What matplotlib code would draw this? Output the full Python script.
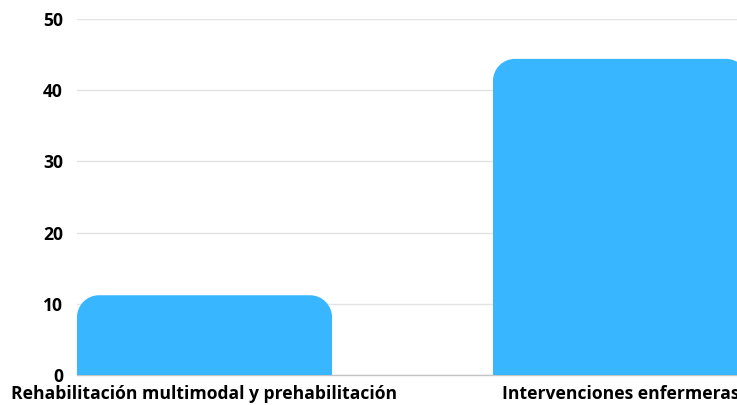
import os
import matplotlib
matplotlib.use("Agg")
from matplotlib import pyplot as plt
from matplotlib import font_manager as fm
from matplotlib.path import Path
from matplotlib.patches import PathPatch

categories = ["Rehabilitación multimodal y prehabilitación", "Intervenciones enfermeras"]
values = [11.2, 44.4]
yticks = [0, 10, 20, 30, 40, 50]

bar_color = "#38B6FF"
radius_px = 22

bold_file = '/usr/share/fonts/truetype/open-sans/OpenSans-Bold.ttf'
if os.path.exists(bold_file):
    font = fm.FontProperties(fname=bold_file, size=12.6)
else:
    font = fm.FontProperties(family='Open Sans', weight='bold', size=12.6)

W, H = 737, 405
fig = plt.figure(figsize=(W / 100, H / 100), dpi=100)
# axes runs past the right edge of the figure, like the reference crop
left, right, top, bottom = 77, 748, 19, 375
ax = fig.add_axes([left / W, 1 - bottom / H, (right - left) / W, (bottom - top) / H])

bar_width = 0.613
xs = list(range(len(categories)))
bars = ax.bar(xs, values, width=bar_width, alpha=0)
ax.set_xlim(-bar_width / 2, len(categories) - 1 + bar_width / 2)
ax.set_ylim(0, 50)

# rounded top corners, radius in pixels converted to data units
fig.canvas.draw()
inv = ax.transData.inverted()
x0, y0 = inv.transform((0, 0))
x1, y1 = inv.transform((radius_px, radius_px))
rx, ry = x1 - x0, y1 - y0

for b in bars:
    bx, by = b.get_x(), b.get_y()
    bw, bh = b.get_width(), b.get_height()
    k = 0.5523
    verts = [
        (bx, by),
        (bx, by + bh - ry),
        (bx, by + bh - ry + k * ry), (bx + rx - k * rx, by + bh), (bx + rx, by + bh),
        (bx + bw - rx, by + bh),
        (bx + bw - rx + k * rx, by + bh), (bx + bw, by + bh - ry + k * ry), (bx + bw, by + bh - ry),
        (bx + bw, by),
        (bx, by),
    ]
    codes = [Path.MOVETO, Path.LINETO,
             Path.CURVE4, Path.CURVE4, Path.CURVE4,
             Path.LINETO,
             Path.CURVE4, Path.CURVE4, Path.CURVE4,
             Path.LINETO, Path.CLOSEPOLY]
    ax.add_patch(PathPatch(Path(verts, codes), facecolor=bar_color, edgecolor='none', zorder=3))

ax.set_yticks(yticks)
ax.set_yticklabels([str(t) for t in yticks], fontproperties=font)
ax.set_xticks(xs)
ax.set_xticklabels(categories, fontproperties=font)
ax.tick_params(axis='y', length=0, pad=10)
ax.tick_params(axis='x', length=0, pad=7)

ax.grid(axis='y', color='#e3e3e3', linewidth=1, zorder=0)
ax.set_axisbelow(True)
for s in ['top', 'right', 'left']:
    ax.spines[s].set_visible(False)
ax.spines['bottom'].set_color('#c4c4c4')
ax.spines['bottom'].set_linewidth(1)

fig.savefig("out.png", dpi=100)
